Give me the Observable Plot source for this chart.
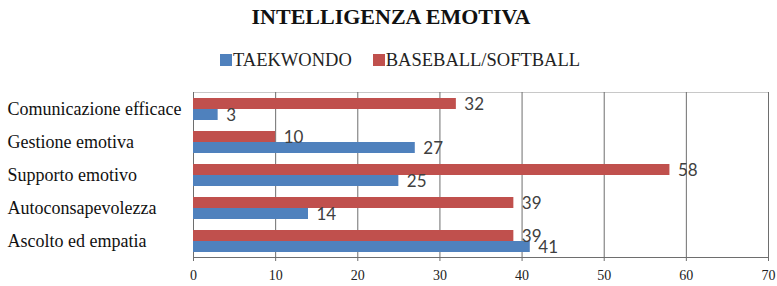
<!DOCTYPE html>
<html>
<head>
<meta charset="utf-8">
<script src="https://cdn.jsdelivr.net/npm/d3@7"></script>
<script src="https://cdn.jsdelivr.net/npm/@observablehq/plot@0.6"></script>
<style>
  html, body { margin: 0; padding: 0; background: #fff; }
  #wrap { width: 777px; }
  #header { position: relative; height: 80px; width: 777px; }
  #title { position: absolute; left: 0; top: 4px; width: 782px; text-align: center;
    font-family: "Liberation Serif", "Times New Roman", serif; font-weight: bold; font-size: 22px; line-height: 25px; color: #111; }
  #legend { position: absolute; left: 220px; top: 49px; display: flex; align-items: center;
    font-family: "Liberation Serif", "Times New Roman", serif; font-size: 18.5px; line-height: 22px; color: #222; }
  .sw { width: 12px; height: 12px; display: inline-block; margin-right: 1px; }
  .item { display: flex; align-items: center; margin-right: 21px; }
  svg { display: block; }
</style>
</head>
<body>
<div id="wrap">
  <div id="header">
    <div id="title">INTELLIGENZA EMOTIVA</div>
    <div id="legend"></div>
  </div>
  <div id="chart"></div>
</div>
<script>
const categories = ["Comunicazione efficace", "Gestione emotiva", "Supporto emotivo", "Autoconsapevolezza", "Ascolto ed empatia"];
const series = ["TAEKWONDO", "BASEBALL/SOFTBALL"];
const taekwondo = [3, 27, 25, 14, 41];
const baseball = [32, 10, 58, 39, 39];
const xTicks = [0, 10, 20, 30, 40, 50, 60, 70];
const colors = ["#4F81BD", "#C0504D"];

const rowsT = categories.map((c, i) => ({category: c, series: series[0], value: taekwondo[i]}));
const rowsB = categories.map((c, i) => ({category: c, series: series[1], value: baseball[i]}));

// legend
const legend = document.getElementById("legend");
series.forEach((s, i) => {
  const item = document.createElement("div");
  item.className = "item";
  const sw = document.createElement("span");
  sw.className = "sw";
  sw.style.background = colors[i];
  item.appendChild(sw);
  const t = document.createElement("span");
  t.textContent = s;
  item.appendChild(t);
  legend.appendChild(item);
});

const serif = "Liberation Serif, Times New Roman, serif";
const sans = "Lato, Liberation Sans, sans-serif";

const chart = Plot.plot({
  width: 777,
  height: 206,
  marginTop: 12,
  marginBottom: 29,
  marginLeft: 193,
  marginRight: 9,
  style: {background: "#fff", fontFamily: serif},
  x: {domain: [0, 70]},
  y: {domain: categories, padding: 0},
  color: {domain: series, range: colors},
  marks: [
    Plot.frame({anchor: "top", stroke: "#c8c8c8", strokeOpacity: 1}),
    Plot.ruleX(xTicks, {stroke: "#6e6e6e", strokeWidth: 1}),
    Plot.frame({anchor: "bottom", stroke: "#6e6e6e", strokeOpacity: 1}),
    Plot.barX(rowsB, {x: "value", y: "category", fill: "series", insetTop: 6, insetBottom: 16}),
    Plot.barX(rowsT, {x: "value", y: "category", fill: "series", insetTop: 17, insetBottom: 5}),
    Plot.text(rowsB, {x: "value", y: "category", text: d => String(d.value), textAnchor: "start", dx: 8, dy: -4.5,
      fontSize: 17, fontFamily: sans, fill: "#404040"}),
    Plot.text(rowsT, {x: "value", y: "category", text: d => String(d.value), textAnchor: "start", dx: 8, dy: 6.5,
      fontSize: 17, fontFamily: sans, fill: "#404040"}),
    Plot.axisY({tickSize: 0, tickPadding: 186, textAnchor: "start", label: null,
      fontSize: 18, fontFamily: serif, fill: "#111"}),
    Plot.axisX({ticks: xTicks, tickSize: 4, tickPadding: 9, label: null, stroke: "#6e6e6e",
      fontSize: 14, fontFamily: serif, fill: "#222", tickFormat: d => String(d)})
  ]
});
document.getElementById("chart").appendChild(chart);
</script>
</body>
</html>
